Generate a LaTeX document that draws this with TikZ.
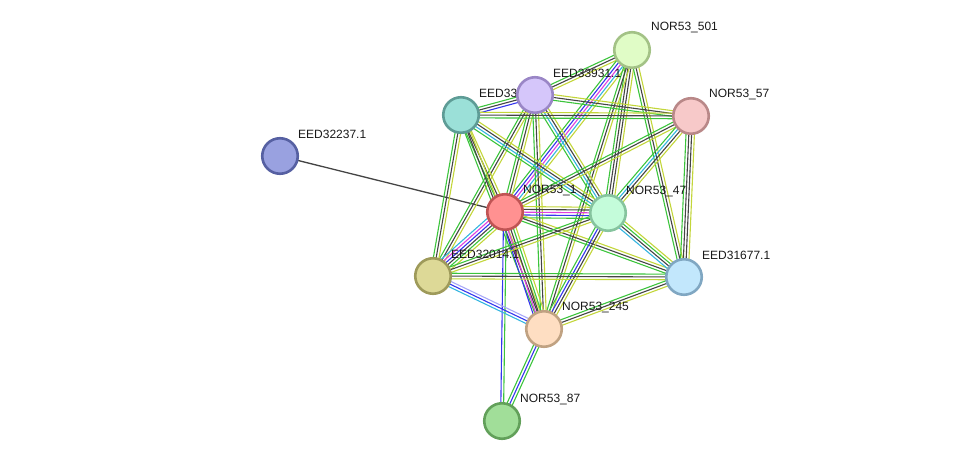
\documentclass[tikz,border=0pt]{standalone}
\usepackage{fontspec}
\setmainfont{Liberation Sans}
\usetikzlibrary{calc,backgrounds}
\definecolor{eg}{HTML}{3CC43C}
\definecolor{ek}{HTML}{444444}
\definecolor{ey}{HTML}{C3D63A}
\definecolor{eb}{HTML}{3535EE}
\definecolor{em}{HTML}{E040E0}
\definecolor{ec}{HTML}{35B5E0}
\definecolor{el}{HTML}{A8A8F8}
\definecolor{fA}{HTML}{E0FCC6}\definecolor{dA}{HTML}{A3C286}
\definecolor{fB}{HTML}{D5C6FA}\definecolor{dB}{HTML}{9A86C6}
\definecolor{fC}{HTML}{9BE0D8}\definecolor{dC}{HTML}{5E9C96}
\definecolor{fD}{HTML}{F7C9C9}\definecolor{dD}{HTML}{B98888}
\definecolor{fE}{HTML}{99A1E0}\definecolor{dE}{HTML}{5660A2}
\definecolor{fF}{HTML}{FF9191}\definecolor{dF}{HTML}{C05454}
\definecolor{fG}{HTML}{C4FCDA}\definecolor{dG}{HTML}{86C49E}
\definecolor{fH}{HTML}{DDD997}\definecolor{dH}{HTML}{9E9A5A}
\definecolor{fI}{HTML}{C2E7FC}\definecolor{dI}{HTML}{80A7C2}
\definecolor{fJ}{HTML}{FEDEC2}\definecolor{dJ}{HTML}{C0A282}
\definecolor{fK}{HTML}{A1DE99}\definecolor{dK}{HTML}{62A05A}
\tikzset{
  nd/.style={circle, minimum size=35.5pt, inner sep=0pt, line width=2.6pt},
  lbl/.style={anchor=west, inner sep=0pt, font=\fontsize{12}{14}\selectfont, text=black!90},
  edge/.style={line width=1.1pt},
}
\newcommand\medge[4]{%
  \foreach \cc [count=\ii] in {#4}{%
    \pgfmathsetmacro\off{(\ii-(#3+1)/2)*2.8}%
    \draw[edge,\cc] ($(#1.center)!\off pt!90:(#2.center)$) -- ($(#2.center)!\off pt!-90:(#1.center)$);
  }}
\begin{document}
\begin{tikzpicture}[x=1pt,y=-1pt]
\useasboundingbox (0,0) rectangle (975,466);
% nodes and labels
\node[nd, fill=fC, draw=dC] (C) at (461,115) {};
\node[lbl] (Cl) at ($(C)+(18,-22)$) {EED33};
\node[nd, fill=fB, draw=dB] (B) at (535,95) {};
\node[lbl] (Bl) at ($(B)+(18,-22)$) {EED33931.1};
\node[nd, fill=fA, draw=dA] (A) at (632,50) {};
\node[lbl] (Al) at ($(A)+(19,-22)$) {NOR53\_501};
\node[nd, fill=fD, draw=dD] (D) at (691,116) {};
\node[lbl] (Dl) at ($(D)+(18,-21)$) {NOR53\_57};
\node[nd, fill=fE, draw=dE] (E) at (280,156) {};
\node[lbl] (El) at ($(E)+(18,-22)$) {EED32237.1};
\node[nd, fill=fF, draw=dF] (F) at (505,212) {};
\node[lbl] (Fl) at ($(F)+(18,-22)$) {NOR53\_1};
\node[nd, fill=fG, draw=dG] (G) at (608,213) {};
\node[lbl] (Gl) at ($(G)+(18,-21)$) {NOR53\_47};
\node[nd, fill=fH, draw=dH] (H) at (433,276) {};
\node[lbl] (Hl) at ($(H)+(18,-22)$) {EED32014.1};
\node[nd, fill=fI, draw=dI] (I) at (684,277) {};
\node[lbl] (Il) at ($(I)+(18,-22)$) {EED31677.1};
\node[nd, fill=fJ, draw=dJ] (J) at (544,329) {};
\node[lbl] (Jl) at ($(J)+(18,-22)$) {NOR53\_245};
\node[nd, fill=fK, draw=dK] (K) at (502,421) {};
\node[lbl] (Kl) at ($(K)+(18,-22)$) {NOR53\_87};
% edges
\begin{scope}[on background layer]
\draw[edge, ek, line width=1.3pt] (E.center) -- (F.center);
\medge{A}{B}{3}{eg,ek,ey}
\medge{A}{F}{5}{eg,eb,em,ec,ey}
\medge{A}{G}{4}{eg,ek,ek,ey}
\medge{A}{I}{3}{eg,ek,ey}
\medge{A}{J}{3}{eg,ek,ey}
\medge{B}{C}{3}{eg,ek,eb}
\medge{B}{D}{3}{eg,ek,ey}
\medge{B}{F}{3}{eg,ek,ey}
\medge{B}{G}{4}{eg,ec,ek,ey}
\medge{B}{H}{3}{eg,ek,ey}
\medge{B}{J}{3}{eg,ek,ey}
\medge{C}{D}{3}{eg,ek,ey}
\medge{C}{F}{3}{eg,ek,ey}
\medge{C}{G}{4}{eg,ec,ek,ey}
\medge{C}{H}{3}{eg,ek,ey}
\medge{C}{J}{3}{eg,ek,ey}
\medge{D}{F}{3}{eg,ek,ey}
\medge{D}{G}{4}{eg,ec,ek,ey}
\medge{D}{I}{4}{eg,ek,ek,ey}
\medge{F}{G}{5}{eg,eb,em,ek,ey}
\medge{F}{H}{6}{ec,em,eb,ek,eg,ey}
\medge{F}{I}{3}{eg,ek,ey}
\medge{F}{J}{5}{eb,em,ek,eg,ey}
\medge{F}{K}{2}{eb,eg}
\medge{G}{H}{3}{eg,ek,ey}
\medge{G}{I}{4}{ec,ek,eg,ey}
\medge{G}{J}{4}{eg,eb,ek,ey}
\medge{H}{I}{3}{ey,ek,eg}
\medge{H}{J}{3}{ec,eb,el}
\medge{I}{J}{3}{eg,ek,ey}
\medge{J}{K}{3}{eg,eb,eg}
\end{scope}
\end{tikzpicture}
\end{document}
